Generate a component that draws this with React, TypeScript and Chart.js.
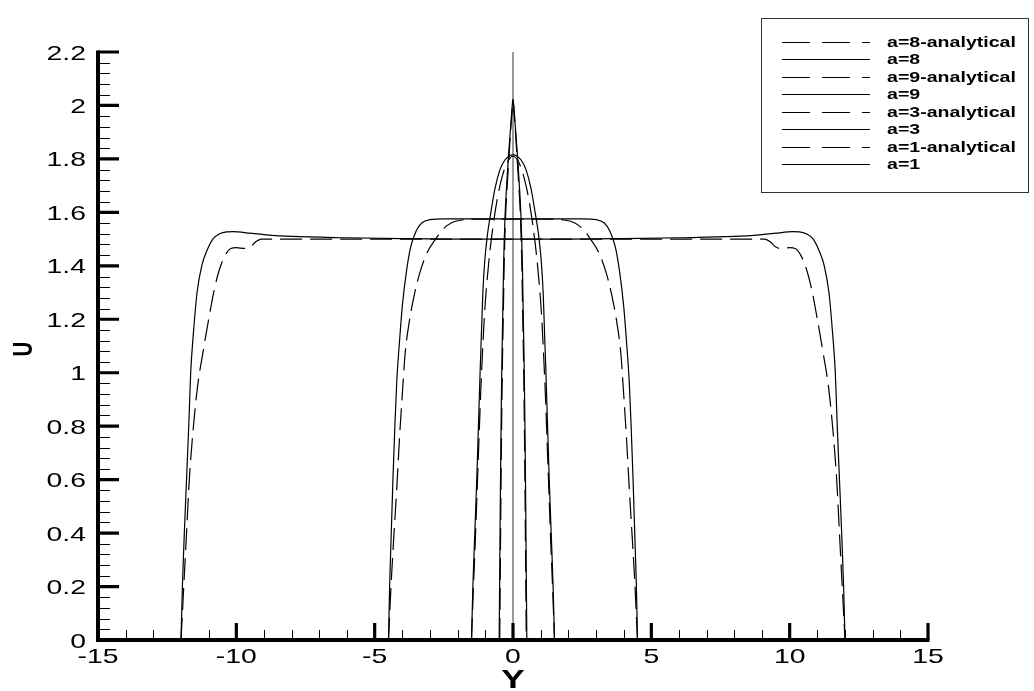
import React, { useEffect, useRef } from "react";
import { Chart, registerables } from "chart.js";
Chart.register(...registerables);

// ---------- axis ticks ----------
const X_TICKS = [-15, -10, -5, 0, 5, 10, 15];
const X_TICK_LABELS = ["-15", "-10", "-5", "0", "5", "10", "15"];
const Y_TICKS = [0, 0.2, 0.4, 0.6, 0.8, 1, 1.2, 1.4, 1.6, 1.8, 2, 2.2];
const Y_TICK_LABELS = ["0", "0.2", "0.4", "0.6", "0.8", "1", "1.2", "1.4", "1.6", "1.8", "2", "2.2"];
const X_MINOR_PER_MAJOR = 4;
const Y_MINOR_PER_MAJOR = 4;
const X_TITLE = "Y";
const Y_TITLE = "U";

// ---------- a=1 (widest) ----------
const a1Y = [-12, -11.95, -11.88, -11.8, -11.72, -11.65, -11.55, -11.42, -11.25, -11.05, -10.85, -10.6, -10.35, -10.1, -9.5, -9, -8, -6, -4, -2, 0, 2, 4, 6, 8, 9, 9.5, 10.1, 10.35, 10.6, 10.85, 11.05, 11.25, 11.42, 11.55, 11.65, 11.72, 11.8, 11.88, 11.95, 12];
const a1U = [0, 0.2, 0.4, 0.6, 0.8, 1.0, 1.15, 1.3, 1.4, 1.46, 1.5, 1.52, 1.527, 1.528, 1.522, 1.517, 1.51, 1.505, 1.502, 1.5, 1.5, 1.5, 1.502, 1.505, 1.51, 1.517, 1.522, 1.528, 1.527, 1.52, 1.5, 1.46, 1.4, 1.3, 1.15, 1.0, 0.8, 0.6, 0.4, 0.2, 0];
const a1aY = [-12, -11.9, -11.8, -11.7, -11.55, -11.4, -11.2, -11.0, -10.8, -10.6, -10.4, -10.2, -10.0, -9.7, -9.5, -9.3, -9.1, -8, -6, -4, -2, 0, 2, 4, 6, 8, 9.1, 9.3, 9.5, 9.7, 10.0, 10.2, 10.4, 10.6, 10.8, 11.0, 11.2, 11.4, 11.55, 11.7, 11.8, 11.9, 12];
const a1aU = [0, 0.2, 0.4, 0.6, 0.8, 0.95, 1.08, 1.2, 1.31, 1.39, 1.44, 1.465, 1.468, 1.465, 1.47, 1.49, 1.5, 1.5, 1.5, 1.5, 1.5, 1.5, 1.5, 1.5, 1.5, 1.5, 1.5, 1.49, 1.47, 1.465, 1.468, 1.465, 1.44, 1.39, 1.31, 1.2, 1.08, 0.95, 0.8, 0.6, 0.4, 0.2, 0];

// ---------- a=3 ----------
const a3Y = [-4.5, -4.46, -4.4, -4.34, -4.27, -4.2, -4.1, -4.0, -3.85, -3.7, -3.5, -3.3, -3.0, -2.5, -1.5, 0, 1.5, 2.5, 3.0, 3.3, 3.5, 3.7, 3.85, 4.0, 4.1, 4.2, 4.27, 4.34, 4.4, 4.46, 4.5];
const a3U = [0, 0.2, 0.4, 0.6, 0.8, 0.97, 1.12, 1.25, 1.38, 1.47, 1.53, 1.56, 1.573, 1.576, 1.576, 1.576, 1.576, 1.576, 1.573, 1.56, 1.53, 1.47, 1.38, 1.25, 1.12, 0.97, 0.8, 0.6, 0.4, 0.2, 0];
const a3aY = [-4.5, -4.4, -4.3, -4.2, -4.1, -4.0, -3.9, -3.75, -3.55, -3.35, -3.1, -2.8, -2.5, -2.2, -1.8, -1.2, 0, 1.2, 1.8, 2.2, 2.5, 2.8, 3.1, 3.35, 3.55, 3.75, 3.9, 4.0, 4.1, 4.2, 4.3, 4.4, 4.5];
const a3aU = [0, 0.22, 0.4, 0.57, 0.76, 0.92, 1.07, 1.19, 1.3, 1.38, 1.45, 1.5, 1.54, 1.562, 1.572, 1.575, 1.575, 1.575, 1.572, 1.562, 1.54, 1.5, 1.45, 1.38, 1.3, 1.19, 1.07, 0.92, 0.76, 0.57, 0.4, 0.22, 0];

// ---------- a=8 ----------
const a8Y = [-1.5, -1.45, -1.38, -1.31, -1.25, -1.19, -1.14, -1.09, -1.02, -0.92, -0.8, -0.65, -0.47, -0.3, -0.15, 0, 0.15, 0.3, 0.47, 0.65, 0.8, 0.92, 1.02, 1.09, 1.14, 1.19, 1.25, 1.31, 1.38, 1.45, 1.5];
const a8U = [0, 0.2, 0.4, 0.6, 0.8, 1.0, 1.15, 1.3, 1.42, 1.52, 1.6, 1.69, 1.76, 1.795, 1.81, 1.815, 1.81, 1.795, 1.76, 1.69, 1.6, 1.52, 1.42, 1.3, 1.15, 1.0, 0.8, 0.6, 0.4, 0.2, 0];
const a8aY = [-1.5, -1.43, -1.37, -1.3, -1.23, -1.17, -1.1, -1.03, -0.95, -0.85, -0.72, -0.57, -0.4, -0.22, 0, 0.22, 0.4, 0.57, 0.72, 0.85, 0.95, 1.03, 1.1, 1.17, 1.23, 1.3, 1.37, 1.43, 1.5];
const a8aU = [0, 0.2, 0.35, 0.55, 0.75, 0.92, 1.08, 1.22, 1.33, 1.44, 1.55, 1.65, 1.73, 1.785, 1.81, 1.785, 1.73, 1.65, 1.55, 1.44, 1.33, 1.22, 1.08, 0.92, 0.75, 0.55, 0.35, 0.2, 0];

// ---------- a=9 ----------
const a9Y = [-0.5, -0.48, -0.46, -0.44, -0.42, -0.4, -0.37, -0.34, -0.29, -0.23, -0.17, -0.1, -0.05, 0, 0.05, 0.1, 0.17, 0.23, 0.29, 0.34, 0.37, 0.4, 0.42, 0.44, 0.46, 0.48, 0.5];
const a9U = [0, 0.25, 0.5, 0.72, 0.9, 1.05, 1.22, 1.4, 1.58, 1.7, 1.8, 1.9, 1.97, 2.025, 1.97, 1.9, 1.8, 1.7, 1.58, 1.4, 1.22, 1.05, 0.9, 0.72, 0.5, 0.25, 0];
const a9aY = [-0.48, -0.46, -0.44, -0.42, -0.4, -0.38, -0.35, -0.32, -0.27, -0.21, -0.15, -0.09, -0.04, 0, 0.04, 0.09, 0.15, 0.21, 0.27, 0.32, 0.35, 0.38, 0.4, 0.42, 0.44, 0.46, 0.48];
const a9aU = [0, 0.25, 0.5, 0.72, 0.9, 1.05, 1.22, 1.4, 1.58, 1.7, 1.8, 1.9, 1.97, 2.02, 1.97, 1.9, 1.8, 1.7, 1.58, 1.4, 1.22, 1.05, 0.9, 0.72, 0.5, 0.25, 0];
// vertical centre-line segment
const spikeY = [0, 0];
const spikeU = [0, 2.2];

const LEGEND_ORDER = ["a=8-analytical", "a=8", "a=9-analytical", "a=9", "a=3-analytical", "a=3", "a=1-analytical", "a=1"];

const pts = (xs: number[], ys: number[]) => xs.map((x, i) => ({ x, y: ys[i] }));

const SX = 1.35; // horizontal stretch of the original lettering

function stretchedText(ctx: CanvasRenderingContext2D, text: string, x: number, y: number, align: CanvasTextAlign) {
  ctx.save();
  ctx.translate(x, y);
  ctx.scale(SX, 1);
  ctx.textAlign = align;
  ctx.fillText(text, 0, 0);
  ctx.restore();
}

const tecplotPlugin = {
  id: "tecplotAxes",
  afterDraw(chart: any) {
    const { ctx, scales } = chart;
    const xs = scales.x;
    const ys = scales.y;
    const x0 = xs.getPixelForValue(-15);
    const x1 = xs.getPixelForValue(15);
    const y0 = ys.getPixelForValue(0);
    const y1 = ys.getPixelForValue(2.2);
    ctx.save();
    ctx.strokeStyle = "#000";
    ctx.fillStyle = "#000";
    ctx.setLineDash([]);
    // axis lines
    ctx.lineWidth = 4;
    ctx.beginPath();
    ctx.moveTo(x0, y1 - 1.5);
    ctx.lineTo(x0, y0 + 2);
    ctx.moveTo(x0 - 2, y0);
    ctx.lineTo(x1 + 1.5, y0);
    ctx.stroke();
    // major ticks
    ctx.lineWidth = 3.2;
    ctx.beginPath();
    Y_TICKS.forEach((v) => {
      const p = ys.getPixelForValue(v);
      ctx.moveTo(x0, p);
      ctx.lineTo(x0 + 21, p);
    });
    X_TICKS.forEach((v) => {
      const p = xs.getPixelForValue(v);
      ctx.moveTo(p, y0);
      ctx.lineTo(p, y0 - 17);
    });
    ctx.stroke();
    // minor ticks
    ctx.lineWidth = 1;
    ctx.beginPath();
    for (let i = 0; i < Y_TICKS.length - 1; i++) {
      const a = Y_TICKS[i], b = Y_TICKS[i + 1];
      for (let k = 1; k <= Y_MINOR_PER_MAJOR; k++) {
        const p = Math.round(ys.getPixelForValue(a + ((b - a) * k) / (Y_MINOR_PER_MAJOR + 1))) + 0.5;
        ctx.moveTo(x0, p);
        ctx.lineTo(x0 + 12, p);
      }
    }
    for (let i = 0; i < X_TICKS.length - 1; i++) {
      const a = X_TICKS[i], b = X_TICKS[i + 1];
      for (let k = 1; k <= X_MINOR_PER_MAJOR; k++) {
        const p = Math.round(xs.getPixelForValue(a + ((b - a) * k) / (X_MINOR_PER_MAJOR + 1))) + 0.5;
        ctx.moveTo(p, y0);
        ctx.lineTo(p, y0 - 10);
      }
    }
    ctx.stroke();
    // tick labels
    ctx.font = '21px "Liberation Sans", Arial, sans-serif';
    ctx.textBaseline = "alphabetic";
    Y_TICKS.forEach((v, i) => {
      const p = ys.getPixelForValue(v);
      stretchedText(ctx, Y_TICK_LABELS[i], 86, p + 7.5, "right");
    });
    X_TICKS.forEach((v, i) => {
      const p = xs.getPixelForValue(v);
      stretchedText(ctx, X_TICK_LABELS[i], p, 663, "center");
    });
    // axis titles
    ctx.font = 'bold 26px "Liberation Sans", Arial, sans-serif';
    stretchedText(ctx, X_TITLE, (x0 + x1) / 2, 688, "center");
    ctx.save();
    ctx.translate(23, 349);
    ctx.scale(SX, 1);
    ctx.rotate(-Math.PI / 2);
    ctx.font = 'bold 20.5px "Liberation Sans", Arial, sans-serif';
    ctx.textAlign = "center";
    ctx.textBaseline = "middle";
    ctx.fillText(Y_TITLE, 0, 1);
    ctx.restore();

    // legend box
    ctx.lineWidth = 1;
    ctx.strokeStyle = "#333";
    ctx.strokeRect(761.5, 18.5, 267, 174);
    ctx.font = 'bold 14.5px "Liberation Sans", Arial, sans-serif';
    LEGEND_ORDER.forEach((label, i) => {
      const ds = chart.data.datasets.find((d: any) => d.label === label);
      const cy = 41.7 + i * 17.5;
      ctx.save();
      ctx.strokeStyle = "#000";
      ctx.lineWidth = 1;
      ctx.setLineDash(ds && ds.borderDash && ds.borderDash.length ? [28, 12] : []);
      ctx.beginPath();
      ctx.moveTo(782, Math.round(cy) + 0.5);
      ctx.lineTo(870, Math.round(cy) + 0.5);
      ctx.stroke();
      ctx.restore();
      ctx.fillStyle = "#000";
      stretchedText(ctx, label, 887, cy + 5.2, "left");
    });
    ctx.restore();
  },
};

const DASH = [22, 8];

export default function App() {
  const ref = useRef<HTMLCanvasElement | null>(null);
  useEffect(() => {
    if (!ref.current) return;
    const mk = (label: string, xs: number[], ys: number[], dashed: boolean) => ({
      label,
      data: pts(xs, ys),
      showLine: true,
      borderColor: "#000",
      borderWidth: 1.2,
      borderDash: dashed ? DASH : [],
      pointRadius: 0,
      fill: false,
      cubicInterpolationMode: "monotone" as const,
    });
    const datasets: any[] = [
      mk("a=8-analytical", a8aY, a8aU, true),
      mk("a=8", a8Y, a8U, false),
      mk("a=9-analytical", a9aY, a9aU, true),
      mk("a=9", a9Y, a9U, false),
      mk("a=3-analytical", a3aY, a3aU, true),
      mk("a=3", a3Y, a3U, false),
      mk("a=1-analytical", a1aY, a1aU, true),
      mk("a=1", a1Y, a1U, false),
      {
        label: "centre",
        data: pts(spikeY, spikeU),
        showLine: true,
        borderColor: "#333",
        borderWidth: 1,
        pointRadius: 0,
        tension: 0,
      },
    ];
    const chart = new Chart(ref.current, {
      type: "scatter",
      data: { datasets },
      options: {
        responsive: false,
        maintainAspectRatio: false,
        animation: false,
        layout: { padding: { left: 98, right: 106, top: 52, bottom: 51 } },
        plugins: { legend: { display: false }, tooltip: { enabled: false } },
        scales: {
          x: { type: "linear", min: -15, max: 15, display: false },
          y: { type: "linear", min: 0, max: 2.2, display: false },
        },
      },
      plugins: [tecplotPlugin],
    } as any);
    return () => chart.destroy();
  }, []);
  return (
    <div style={{ position: "fixed", left: 0, top: 0, width: 1034, height: 691, background: "#fff" }}>
      <canvas ref={ref} width={1034} height={691} style={{ width: 1034, height: 691 }} />
    </div>
  );
}
